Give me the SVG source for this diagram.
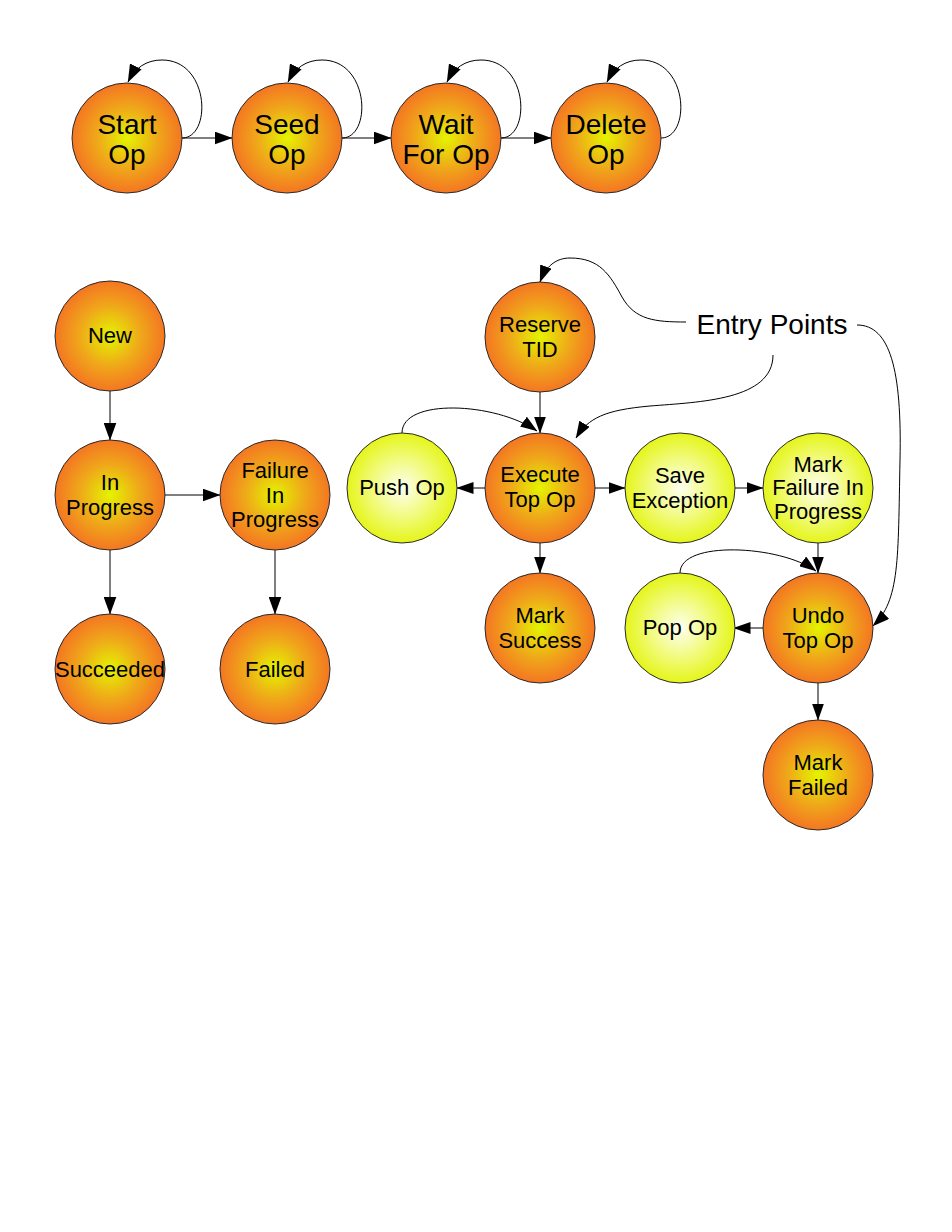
<svg xmlns="http://www.w3.org/2000/svg" width="952" height="1232" viewBox="0 0 952 1232">
<defs>
<radialGradient id="gOr" cx="50%" cy="50%" r="50%">
<stop offset="0%" stop-color="#e4f400"/>
<stop offset="55%" stop-color="#efa81a"/>
<stop offset="100%" stop-color="#f47622"/>
</radialGradient>
<radialGradient id="gYe" cx="50%" cy="50%" r="50%">
<stop offset="0%" stop-color="#fdfff0"/>
<stop offset="60%" stop-color="#f0fa70"/>
<stop offset="100%" stop-color="#e4f51a"/>
</radialGradient>
<marker id="arr" markerUnits="userSpaceOnUse" markerWidth="17" markerHeight="12" refX="16.5" refY="6" orient="auto" viewBox="0 0 17 12">
<path d="M0,0 L17,6 L0,12 z" fill="#000"/>
</marker>
<marker id="arrB" markerUnits="userSpaceOnUse" markerWidth="18" markerHeight="13" refX="17.5" refY="6.5" orient="auto" viewBox="0 0 18 13">
<path d="M0,0 L18,6.5 L0,13 z" fill="#000"/>
</marker>
</defs>
<style>
.or{fill:url(#gOr);stroke:#2a2a2a;stroke-width:1}
.ye{fill:url(#gYe);stroke:#2a2a2a;stroke-width:1}
text{font-family:"Liberation Sans",Arial,sans-serif;fill:#000;text-anchor:middle}
.t1{font-size:28px}
.t2{font-size:22px}
.c{fill:none;stroke:#000;stroke-width:1;marker-end:url(#arr)}
.cb{fill:none;stroke:#000;stroke-width:1;marker-end:url(#arrB)}
</style>
<rect width="952" height="1232" fill="#fff"/>

<g id="connectors">
<!-- top row -->
<path class="cb" d="M182,138 C212,138 210,60 162,60 C146,60 135,68 128,82"/>
<path class="cb" d="M342,138 C372,138 370,60 322,60 C306,60 295,68 288,82"/>
<path class="cb" d="M501,138 C531,138 529,60 481,60 C465,60 454,68 447,82"/>
<path class="cb" d="M661,138 C691,138 689,60 641,60 C625,60 614,68 607,82"/>
<path class="cb" d="M182,138 L232,138"/>
<path class="cb" d="M342,138 L391,138"/>
<path class="cb" d="M501,138 L551,138"/>
<!-- left section -->
<path class="cb" d="M110,391 L110,440"/>
<path class="cb" d="M165,495 L220,495"/>
<path class="cb" d="M110,550 L110,614"/>
<path class="cb" d="M275,550 L275,614"/>
<!-- right section -->
<path class="c" d="M540,392 L540,433"/>
<path class="c" d="M402,433 C402,398 495,402 537,431"/>
<path class="c" d="M486,488 L457,488"/>
<path class="c" d="M594,488 L625,488"/>
<path class="c" d="M540,543 L540,573"/>
<path class="c" d="M734,488 L763,488"/>
<path class="c" d="M818,543 L818,573"/>
<path class="c" d="M680,573 C680,540 780,545 816,571"/>
<path class="c" d="M763,628 L734,628"/>
<path class="c" d="M818,682 L818,720"/>
<!-- entry points -->
<path class="c" d="M686,322 C655,322 635,320 622,297 C610,275 600,258 570,258 C556,258 546,266 540,282"/>
<path class="c" d="M773,355 C773,400 700,402 650,406 C605,410 588,418 576,438"/>
<path class="c" d="M857,325 C890,325 902,370 900,460 C898,560 900,600 873,626"/>
</g>

<g id="start-op"><circle class="or" cx="127" cy="138" r="55"/><text class="t1" x="127" y="134">Start</text><text class="t1" x="127" y="164">Op</text></g>
<g id="seed-op"><circle class="or" cx="287" cy="138" r="55"/><text class="t1" x="287" y="134">Seed</text><text class="t1" x="287" y="164">Op</text></g>
<g id="wait-for-op"><circle class="or" cx="446" cy="138" r="55"/><text class="t1" x="446" y="134">Wait</text><text class="t1" x="446" y="164">For Op</text></g>
<g id="delete-op"><circle class="or" cx="606" cy="138" r="55"/><text class="t1" x="606" y="134">Delete</text><text class="t1" x="606" y="164">Op</text></g>

<g id="new"><circle class="or" cx="110" cy="336" r="55"/><text class="t2" x="110" y="343">New</text></g>
<g id="in-progress"><circle class="or" cx="110" cy="495" r="55"/><text class="t2" x="110" y="490">In</text><text class="t2" x="110" y="515">Progress</text></g>
<g id="failure-in-progress"><circle class="or" cx="275" cy="495" r="55"/><text class="t2" x="275" y="478">Failure</text><text class="t2" x="275" y="503">In</text><text class="t2" x="275" y="527">Progress</text></g>
<g id="succeeded"><circle class="or" cx="110" cy="669" r="55"/><text class="t2" x="110" y="677">Succeeded</text></g>
<g id="failed"><circle class="or" cx="275" cy="669" r="55"/><text class="t2" x="275" y="677">Failed</text></g>

<g id="reserve-tid"><circle class="or" cx="540" cy="337" r="55"/><text class="t2" x="540" y="332">Reserve</text><text class="t2" x="540" y="357">TID</text></g>
<g id="execute-top-op"><circle class="or" cx="540" cy="488" r="55"/><text class="t2" x="540" y="482">Execute</text><text class="t2" x="540" y="507">Top Op</text></g>
<g id="push-op"><circle class="ye" cx="402" cy="488" r="55"/><text class="t2" x="402" y="495">Push Op</text></g>
<g id="save-exception"><circle class="ye" cx="680" cy="488" r="55"/><text class="t2" x="680" y="483">Save</text><text class="t2" x="680" y="508">Exception</text></g>
<g id="mark-failure-in-progress"><circle class="ye" cx="818" cy="488" r="55"/><text class="t2" x="818" y="472">Mark</text><text class="t2" x="818" y="495">Failure In</text><text class="t2" x="818" y="519">Progress</text></g>
<g id="mark-success"><circle class="or" cx="540" cy="628" r="55"/><text class="t2" x="540" y="623">Mark</text><text class="t2" x="540" y="648">Success</text></g>
<g id="pop-op"><circle class="ye" cx="680" cy="628" r="55"/><text class="t2" x="680" y="635">Pop Op</text></g>
<g id="undo-top-op"><circle class="or" cx="818" cy="628" r="55"/><text class="t2" x="818" y="623">Undo</text><text class="t2" x="818" y="648">Top Op</text></g>
<g id="mark-failed"><circle class="or" cx="818" cy="775" r="55"/><text class="t2" x="818" y="770">Mark</text><text class="t2" x="818" y="795">Failed</text></g>

<g id="entry-points"><text class="t1" x="772" y="334">Entry Points</text></g>
</svg>
